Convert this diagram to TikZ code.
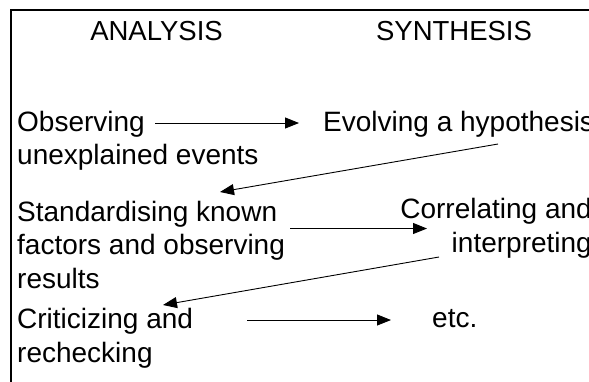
\documentclass[tikz,border=0pt]{standalone}
\usepackage{fontspec}
\setmainfont{Liberation Sans}
\usepackage{tikz}
\usetikzlibrary{arrows.meta,positioning,calc}
\tikzset{
  >={Triangle[length=14bp,width=11bp]},
  head/.style={font=\fontsize{27.5bp}{33bp}\selectfont,inner sep=0pt,anchor=base},
  txt/.style={font=\fontsize{28bp}{33.5bp}\selectfont,inner sep=0pt,anchor=base west,align=left},
  txtr/.style={txt,anchor=base east,align=right},
  arr/.style={->,line width=0.9bp},
  frame/.style={line width=1.3bp},
}

\begin{document}
\begin{tikzpicture}[x=1bp,y=-1bp]
  \useasboundingbox (0,0) rectangle (589,381);
  \clip (0,0) rectangle (589,381);
  % frame
  \draw[frame] (11,400) -- (11,10) -- (600,10);
  % headings
  \node[head] (ana) at (156.5,40) {ANALYSIS};
  \node[head] (syn) at (454,40) {SYNTHESIS};
  % steps (multi-line nodes sit on the baseline of their last line)
  \node[txt] (obs) at (17,164.5) {Observing\\unexplained events};
  \node[txt] (evo) at (323,131) {Evolving a hypothesis};
  \node[txt] (std) at (17,288) {Standardising known\\factors and observing\\results};
  \node[txtr] (cor) at (592,252) {Correlating and\\interpreting};
  \node[txt] (crit) at (17,362) {Criticizing and\\rechecking};
  \node[txt] (etc) at (432,327) {etc.};
  % arrow ends
  \coordinate (obs-out) at (155,123);
  \coordinate (evo-in) at (299,123);
  \coordinate (evo-out) at (498,144);
  \coordinate (std-in) at (220,192);
  \coordinate (std-out) at (290,228.5);
  \coordinate (cor-in) at (427,228.5);
  \coordinate (cor-out) at (439,257);
  \coordinate (crit-in) at (163,305);
  \coordinate (crit-out) at (247,320);
  \coordinate (etc-in) at (391,320);
  \foreach \a/\b in {obs-out/evo-in,evo-out/std-in,std-out/cor-in,cor-out/crit-in,crit-out/etc-in}
    \draw[arr] (\a) -- (\b);
\end{tikzpicture}
\end{document}
